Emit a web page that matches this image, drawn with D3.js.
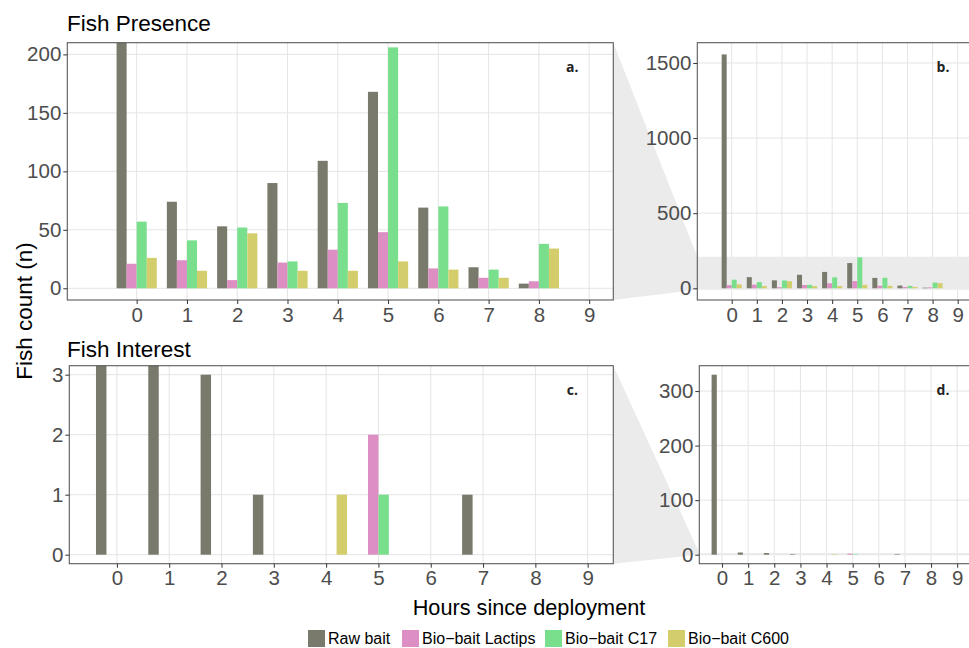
<!DOCTYPE html>
<html lang="en">
    <head>
        <meta charset="utf-8">
        <title>Fish presence and interest</title>
        <script src="https://d3js.org/d3.v7.min.js"></script>
        <style type="text/css">
            body { margin: 0; background: #fff; }
            text { font-family: "Liberation Sans", Arial, sans-serif; }
        </style>
    </head>
    <body>
        <script>
            // data
            var hours = [0, 1, 2, 3, 4, 5, 6, 7, 8];
            var hourTicks = [0, 1, 2, 3, 4, 5, 6, 7, 8, 9];
            var seriesNames = ["Raw bait", "Bio\u2212bait Lactips", "Bio\u2212bait C17", "Bio\u2212bait C600"];
            var seriesColors = ["#797a6b", "#dd8fc3", "#79df8c", "#d4cd6c"];

            var presenceRaw     = [1557, 74, 53, 90, 109, 168, 69, 18, 4];
            var presenceLactips = [21, 24, 7, 22, 33, 48, 17, 9, 6];
            var presenceC17     = [57, 41, 52, 23, 73, 206, 70, 16, 38];
            var presenceC600    = [26, 15, 47, 15, 15, 23, 16, 9, 34];

            var interestRaw     = [330, 4, 3, 1, 0, 0, 0, 1, 0];
            var interestLactips = [0, 0, 0, 0, 0, 2, 0, 0, 0];
            var interestC17     = [0, 0, 0, 0, 0, 1, 0, 0, 0];
            var interestC600    = [0, 0, 0, 0, 1, 0, 0, 0, 0];

            var presenceTicksZoom = [0, 50, 100, 150, 200];
            var presenceTicksFull = [0, 500, 1000, 1500];
            var interestTicksZoom = [0, 1, 2, 3];
            var interestTicksFull = [0, 100, 200, 300];

            // configuration
            var width = 969, height = 648;
            var gridColor = "#e4e4e4";
            var borderColor = "#5a5a5a";
            var tickColor = "#4d4d4d";

            var svg = d3.select("body").append("svg")
                .attr("width", width)
                .attr("height", height);

            var defs = svg.append("defs");

            var presence = [presenceRaw, presenceLactips, presenceC17, presenceC600];
            var interest = [interestRaw, interestLactips, interestC17, interestC600];

            var panels = [
                { id: "a", series: presence, left: 67.3, right: 613.3, top: 42.7, bottom: 300,
                  xDomain: [-1.38, 9.48], yDomain: [-10, 210], yTicks: presenceTicksZoom },
                { id: "b", series: presence, left: 697.3, right: 970, top: 42.7, bottom: 300,
                  xDomain: [-1.37, 9.49], yDomain: [-78, 1635], yTicks: presenceTicksFull },
                { id: "c", series: interest, left: 69.3, right: 613.3, top: 365.7, bottom: 563.7,
                  xDomain: [-0.91, 9.49], yDomain: [-0.15, 3.15], yTicks: interestTicksZoom },
                { id: "d", series: interest, left: 699.3, right: 970, top: 365.7, bottom: 563.7,
                  xDomain: [-0.87, 9.49], yDomain: [-16.5, 346.5], yTicks: interestTicksFull }
            ];

            panels.forEach(function(p) {
                p.x = d3.scaleLinear().domain(p.xDomain).range([p.left, p.right]);
                p.y = d3.scaleLinear().domain(p.yDomain).range([p.bottom, p.top]);
            });

            // zoom wedges linking the cropped panels to the full ones
            function drawWedge(small, big) {
                var bandTop = big.y(small.yDomain[1]);
                var bandBottom = big.y(small.yDomain[0]);
                svg.append("path")
                    .attr("d", "M" + small.right + "," + small.top +
                               "L" + big.left + "," + bandTop +
                               "L" + big.left + "," + bandBottom +
                               "L" + small.right + "," + small.bottom + "Z")
                    .attr("fill", "#ebebeb");
            }
            drawWedge(panels[0], panels[1]);
            drawWedge(panels[2], panels[3]);

            function drawPanel(p, band) {
                var g = svg.append("g");

                defs.append("clipPath").attr("id", "clip-" + p.id)
                    .append("rect")
                    .attr("x", p.left).attr("y", p.top)
                    .attr("width", p.right - p.left).attr("height", p.bottom - p.top);

                g.append("rect")
                    .attr("x", p.left).attr("y", p.top)
                    .attr("width", p.right - p.left).attr("height", p.bottom - p.top)
                    .attr("fill", "#fff");

                var inner = g.append("g").attr("clip-path", "url(#clip-" + p.id + ")");

                // grid
                inner.selectAll(".hgrid").data(p.yTicks).enter().append("line")
                    .attr("x1", p.left).attr("x2", p.right)
                    .attr("y1", function(d) { return p.y(d); })
                    .attr("y2", function(d) { return p.y(d); })
                    .attr("stroke", gridColor).attr("stroke-width", 1);

                inner.selectAll(".vgrid").data(hourTicks).enter().append("line")
                    .attr("y1", p.top).attr("y2", p.bottom)
                    .attr("x1", function(d) { return p.x(d); })
                    .attr("x2", function(d) { return p.x(d); })
                    .attr("stroke", gridColor).attr("stroke-width", 1);

                if (band) {
                    inner.append("rect")
                        .attr("x", p.left)
                        .attr("width", p.right - p.left)
                        .attr("y", p.y(band[1]))
                        .attr("height", p.y(band[0]) - p.y(band[1]))
                        .attr("fill", "#ebebeb");
                }

                // bars, dodged 0.8 wide
                var bw = 0.2 * (p.x(1) - p.x(0));
                p.series.forEach(function(vals, i) {
                    inner.selectAll(".bar" + i).data(hours).enter().append("rect")
                        .attr("x", function(h) { return p.x(h) + (i - 2) * bw; })
                        .attr("width", bw)
                        .attr("y", function(h, j) { return p.y(Math.max(vals[j], 0)); })
                        .attr("height", function(h, j) { return p.y(0) - p.y(vals[j]); })
                        .attr("fill", seriesColors[i]);
                });

                // border
                g.append("rect")
                    .attr("x", p.left).attr("y", p.top)
                    .attr("width", p.right - p.left).attr("height", p.bottom - p.top)
                    .attr("fill", "none")
                    .attr("stroke", borderColor).attr("stroke-width", 1.1);

                // axes
                var yAxis = d3.axisLeft(p.y).tickValues(p.yTicks).tickFormat(d3.format("d"))
                    .tickSize(4).tickPadding(2);
                var xAxis = d3.axisBottom(p.x).tickValues(hourTicks).tickFormat(d3.format("d"))
                    .tickSize(4).tickPadding(3);

                var ya = g.append("g").attr("transform", "translate(" + p.left + ",0)").call(yAxis);
                var xa = g.append("g").attr("transform", "translate(0," + p.bottom + ")").call(xAxis);

                [ya, xa].forEach(function(a) {
                    a.select(".domain").remove();
                    a.selectAll(".tick line").attr("stroke", "#333").attr("stroke-width", 1);
                    a.selectAll(".tick text")
                        .attr("fill", tickColor)
                        .style("font-size", "20.5px")
                        .style("font-family", "Liberation Sans, Arial, sans-serif");
                });

                // panel tag
                g.append("text")
                    .attr("x", p.right - (p.id === "a" || p.id === "c" ? 41 : 27))
                    .attr("y", p.top + 29)
                    .attr("text-anchor", "middle")
                    .style("font-family", "Open Sans, Noto Sans, sans-serif")
                    .style("font-weight", "bold")
                    .style("font-size", "14px")
                    .attr("fill", "#222")
                    .text(p.id + ".");
            }

            drawPanel(panels[0]);
            drawPanel(panels[1], panels[0].yDomain);
            drawPanel(panels[2]);
            drawPanel(panels[3], panels[2].yDomain);

            // titles
            svg.append("text").attr("x", 67).attr("y", 31)
                .style("font-size", "22.5px").attr("fill", "#000").text("Fish Presence");
            svg.append("text").attr("x", 67).attr("y", 357)
                .style("font-size", "22.5px").attr("fill", "#000").text("Fish Interest");

            svg.append("text")
                .attr("x", 529).attr("y", 615)
                .attr("text-anchor", "middle")
                .style("font-size", "21.7px").attr("fill", "#000")
                .text("Hours since deployment");

            svg.append("text")
                .attr("transform", "translate(32,311) rotate(-90)")
                .attr("text-anchor", "middle")
                .style("font-size", "22.5px").attr("fill", "#000")
                .text("Fish count (n)");

            // legend
            var legendX = [308, 402, 545, 668];
            var legend = svg.selectAll(".legend").data(seriesNames).enter().append("g")
                .attr("class", "legend")
                .attr("transform", function(d, i) { return "translate(" + legendX[i] + ",630)"; });

            legend.append("rect")
                .attr("width", 17).attr("height", 17)
                .attr("fill", function(d, i) { return seriesColors[i]; });

            legend.append("text")
                .attr("x", 20).attr("y", 14)
                .style("font-size", "16px").attr("fill", "#000")
                .text(function(d) { return d; });
        </script>
    </body>
</html>
